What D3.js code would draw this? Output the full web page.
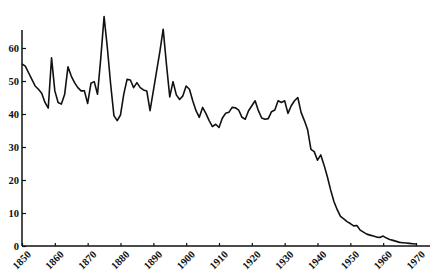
<!DOCTYPE html>
<html>
<head>
<meta charset="utf-8">
<script src="https://cdn.jsdelivr.net/npm/d3@7"></script>
<style>
  body { margin: 0; background: #fff; }
  svg text { font-family: "Liberation Serif", serif; font-weight: bold; font-size: 10.5px; fill: #111; }
</style>
</head>
<body>
<div id="chart"></div>
<script>
// yearly values
const years = d3.range(1850, 1971);
const values = [
  55.2, 54.5, 52.5, 50.5, 48.5, 47.5, 46.3, 43.5, 41.8, 57,
  47, 43.5, 43, 46, 54.3, 51.5, 49.5, 48, 47, 47,
  43.2, 49.3, 49.8, 46, 57, 69.5, 60, 49, 39.5, 38,
  39.7, 46, 50.5, 50.3, 48, 49.5, 48, 47.3, 47, 41,
  47, 53, 59, 65.7, 55, 45.2, 49.8, 45.8, 44.4, 45.5,
  48.5, 47.5, 44, 41, 39, 42, 40.2, 38, 36.2, 36.9,
  35.9, 38.7, 40.2, 40.5, 42, 41.9, 41.2, 39, 38.4, 41,
  42.5, 44, 41, 38.8, 38.4, 38.6, 40.7, 41.2, 44, 43.5,
  44, 40.2, 42.5, 44, 45, 40.5, 38, 35.2, 29.3, 28.6,
  26, 27.6, 24.5, 21, 17, 13.5, 11, 9, 8.2, 7.4,
  6.8, 6.1, 6.2, 4.8, 4.2, 3.6, 3.3, 3, 2.7, 2.6,
  3, 2.4, 2, 1.7, 1.4, 1.1, 1, 0.9, 0.8, 0.7,
  0.6
];
const xTicks = [1850, 1860, 1870, 1880, 1890, 1900, 1910, 1920, 1930, 1940, 1950, 1960, 1970];
const yTicks = [0, 10, 20, 30, 40, 50, 60];

const width = 433, height = 278;
const margin = { top: 30, right: 3, bottom: 32, left: 22 };

const svg = d3.select("#chart")
  .append("svg")
  .attr("width", width)
  .attr("height", height);

const x = d3.scaleLinear()
  .domain([1850, 1970])
  .range([margin.left, 416]);

const y = d3.scaleLinear()
  .domain([0, 10])
  .range([246, 213]);

// axes (ticks point inward like the printed original)
const xAxis = d3.axisBottom(x).tickValues(xTicks).tickSize(-3).tickFormat(d3.format("d"));
const yAxis = d3.axisLeft(y).tickValues(yTicks).tickSize(-4).tickFormat(d3.format("d"));

const gx = svg.append("g")
  .attr("transform", `translate(0, ${y(0)})`)
  .call(xAxis);
gx.select(".domain").remove();
gx.append("line")
  .attr("x1", x(1850)).attr("x2", width - margin.right)
  .attr("stroke", "#111").attr("stroke-width", 1.5);
gx.selectAll(".tick line").attr("stroke", "#111").attr("stroke-width", 1.2);
gx.selectAll(".tick text")
  .attr("text-anchor", "end")
  .attr("dx", 0).attr("dy", 0)
  .attr("transform", "translate(7, 7) rotate(-45)");

const gy = svg.append("g")
  .attr("transform", `translate(${x(1850)}, 0)`)
  .call(yAxis);
gy.select(".domain").remove();
gy.append("line")
  .attr("y1", margin.top).attr("y2", y(0))
  .attr("stroke", "#111").attr("stroke-width", 1.5);
gy.selectAll(".tick line").attr("stroke", "#111").attr("stroke-width", 1.2);
gy.selectAll(".tick text").attr("x", -3).attr("dy", "0.35em");

// the series
const line = d3.line()
  .x((d, i) => x(years[i]))
  .y((d) => y(d));

svg.append("path")
  .datum(values)
  .attr("fill", "none")
  .attr("stroke", "#111")
  .attr("stroke-width", 1.6)
  .attr("stroke-linejoin", "round")
  .attr("d", line);
</script>
</body>
</html>
